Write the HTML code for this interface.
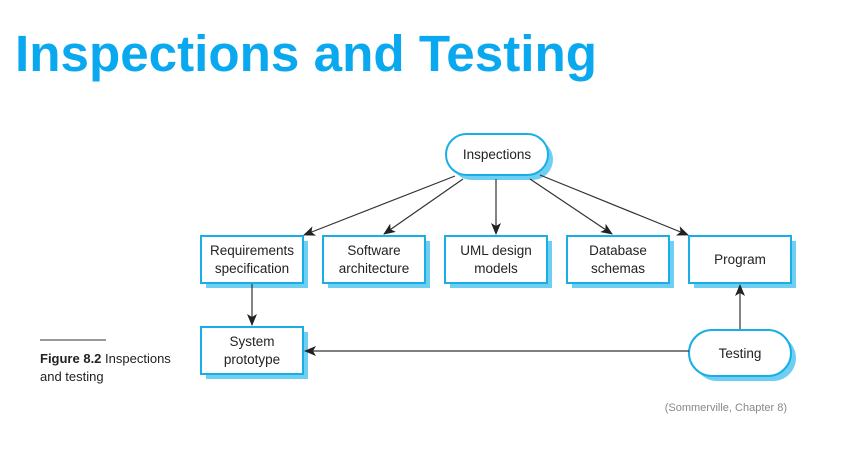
<!DOCTYPE html>
<html><head><meta charset="utf-8"><style>
html,body{margin:0;padding:0;background:#fff;width:844px;height:461px;overflow:hidden}
svg{display:block}
</style></head><body>
<svg width="844" height="461" viewBox="0 0 844 461" xmlns="http://www.w3.org/2000/svg">
<defs>
<marker id="a" markerWidth="12" markerHeight="10" refX="11" refY="5" orient="auto" markerUnits="userSpaceOnUse">
<path d="M0,0 L12,5 L0,10 L3,5 Z" fill="#222"/>
</marker>
</defs>
<text x="15" y="71" font-family="Liberation Sans, sans-serif" font-weight="bold" font-size="51" fill="#0aa9ef" textLength="582" lengthAdjust="spacingAndGlyphs">Inspections and Testing</text>

<g font-family="Liberation Sans, sans-serif" font-size="13.5" fill="#222" text-anchor="middle">
<!-- shadows -->
<g fill="#6fcff2">
<rect x="206" y="241" width="102" height="47"/>
<rect x="328" y="241" width="102" height="47"/>
<rect x="450" y="241" width="102" height="47"/>
<rect x="572" y="241" width="102" height="47"/>
<rect x="694" y="241" width="102" height="47"/>
<rect x="206" y="332" width="102" height="47"/>
<rect x="451" y="139" width="102" height="41" rx="20.5"/>
<rect x="694" y="335" width="102" height="46" rx="23"/>
</g>
<g fill="#fff" stroke="#1aaee6" stroke-width="2">
<rect x="201" y="236" width="102" height="47"/>
<rect x="323" y="236" width="102" height="47"/>
<rect x="445" y="236" width="102" height="47"/>
<rect x="567" y="236" width="102" height="47"/>
<rect x="689" y="236" width="102" height="47"/>
<rect x="201" y="327" width="102" height="47"/>
<rect x="446" y="134" width="102" height="41" rx="20.5"/>
<rect x="689" y="330" width="102" height="46" rx="23"/>
</g>
<text x="252" y="255">Requirements</text><text x="252" y="273">specification</text>
<text x="374" y="255">Software</text><text x="374" y="273">architecture</text>
<text x="496" y="255">UML design</text><text x="496" y="273">models</text>
<text x="618" y="255">Database</text><text x="618" y="273">schemas</text>
<text x="740" y="264">Program</text>
<text x="252" y="346">System</text><text x="252" y="364">prototype</text>
<text x="497" y="159">Inspections</text>
<text x="740" y="358">Testing</text>
</g>

<g stroke="#333" stroke-width="1.2" fill="none">
<line x1="455" y1="176" x2="304" y2="235" marker-end="url(#a)"/>
<line x1="463" y1="179" x2="384" y2="234" marker-end="url(#a)"/>
<line x1="496" y1="179" x2="496" y2="234" marker-end="url(#a)"/>
<line x1="530" y1="179" x2="612" y2="234" marker-end="url(#a)"/>
<line x1="540" y1="175" x2="688" y2="235" marker-end="url(#a)"/>
<line x1="252" y1="284" x2="252" y2="325" marker-end="url(#a)"/>
<line x1="740" y1="329" x2="740" y2="285" marker-end="url(#a)"/>
<line x1="689" y1="351" x2="305" y2="351" marker-end="url(#a)"/>
</g>

<line x1="40" y1="340" x2="106" y2="340" stroke="#333" stroke-width="1"/>
<text x="40" y="363" font-family="Liberation Sans, sans-serif" font-size="13" fill="#222"><tspan font-weight="bold">Figure 8.2</tspan> Inspections</text>
<text x="40" y="381" font-family="Liberation Sans, sans-serif" font-size="13" fill="#222">and testing</text>
<text x="787" y="411" text-anchor="end" font-family="Liberation Sans, sans-serif" font-size="11" fill="#888">(Sommerville, Chapter 8)</text>
</svg>
</body></html>
